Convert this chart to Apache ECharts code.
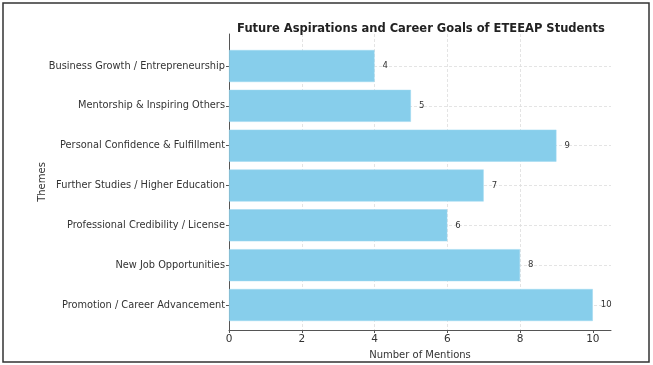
<!DOCTYPE html>
<html><head><meta charset="utf-8">
<script src="https://cdn.jsdelivr.net/npm/echarts@6/dist/echarts.min.js"></script>
<style>html,body{margin:0;padding:0;background:#fff}#c{width:653px;height:365px}</style>
</head><body><div id="c"></div>
<script>
const categories = [
  'Business Growth / Entrepreneurship',
  'Mentorship & Inspiring Others',
  'Personal Confidence & Fulfillment',
  'Further Studies / Higher Education',
  'Professional Credibility / License',
  'New Job Opportunities',
  'Promotion / Career Advancement'
];
const mentions = [4, 5, 9, 7, 6, 8, 10];
const xTicks = [0, 2, 4, 6, 8, 10];

const chart = echarts.init(document.getElementById('c'), null, {renderer: 'canvas'});
const font = 'DejaVu Sans';
const gridL = 229, gridR = 42;
chart.setOption({
  backgroundColor: '#fff',
  animation: false,
  title: {
    text: 'Future Aspirations and Career Goals of ETEEAP Students',
    left: 416, top: 18, textAlign: 'center',
    textStyle: {fontFamily: font, fontSize: 11.5, fontWeight: 'bold', color: '#222'}
  },
  graphic: [{
    type: 'rect', shape: {x: 3, y: 3, width: 646, height: 359},
    style: {fill: 'none', stroke: '#333', lineWidth: 1.5}, z: 100
  }],
  grid: [
    {left: gridL, right: gridR, top: 34, bottom: 31},
    {left: gridL, right: gridR, top: 66, bottom: 60}
  ],
  xAxis: [
    {
      type: 'value', gridIndex: 0, min: 0, max: 10.5, interval: 2,
      name: 'Number of Mentions', nameLocation: 'middle', nameGap: 20,
      nameTextStyle: {fontFamily: font, fontSize: 10, color: '#333'},
      axisLine: {show: true, lineStyle: {color: '#555', width: 1}},
      axisTick: {show: true, length: 3, lineStyle: {color: '#555'}, customValues: xTicks},
      axisLabel: {fontFamily: font, fontSize: 10.5, color: '#333', margin: 4, customValues: xTicks},
      splitLine: {show: true, showMinLine: false, showMaxLine: false, lineStyle: {color: '#ddd', type: [3, 2], width: 0.8}}
    },
    {
      type: 'value', gridIndex: 1, min: 0, max: 10.5, show: false,
      splitLine: {show: false}
    }
  ],
  yAxis: [
    {
      type: 'value', gridIndex: 0, min: 0, max: 1,
      name: 'Themes', nameLocation: 'middle', nameGap: 182, nameRotate: 90,
      nameTextStyle: {fontFamily: font, fontSize: 10, color: '#333'},
      axisLine: {show: true, lineStyle: {color: '#555', width: 1}},
      axisTick: {show: false}, axisLabel: {show: false}, splitLine: {show: false}
    },
    {
      type: 'category', gridIndex: 1, data: categories, inverse: true, boundaryGap: false,
      axisLine: {show: false},
      axisTick: {show: true, length: 3, lineStyle: {color: '#555'}},
      axisLabel: {fontFamily: font, fontSize: 9.8, color: '#333', margin: 4},
      splitLine: {show: true, lineStyle: {color: '#ddd', type: [3, 2], width: 0.8}}
    }
  ],
  series: [{
    type: 'bar', xAxisIndex: 1, yAxisIndex: 1, data: mentions, barWidth: 32,
    itemStyle: {color: '#87CEEB', borderColor: '#9fd8f0', borderWidth: 0.5},
    label: {show: true, position: 'right', distance: 8, fontFamily: font, fontSize: 8.5, color: '#333'},
    z: 3
  }]
});
</script></body></html>
